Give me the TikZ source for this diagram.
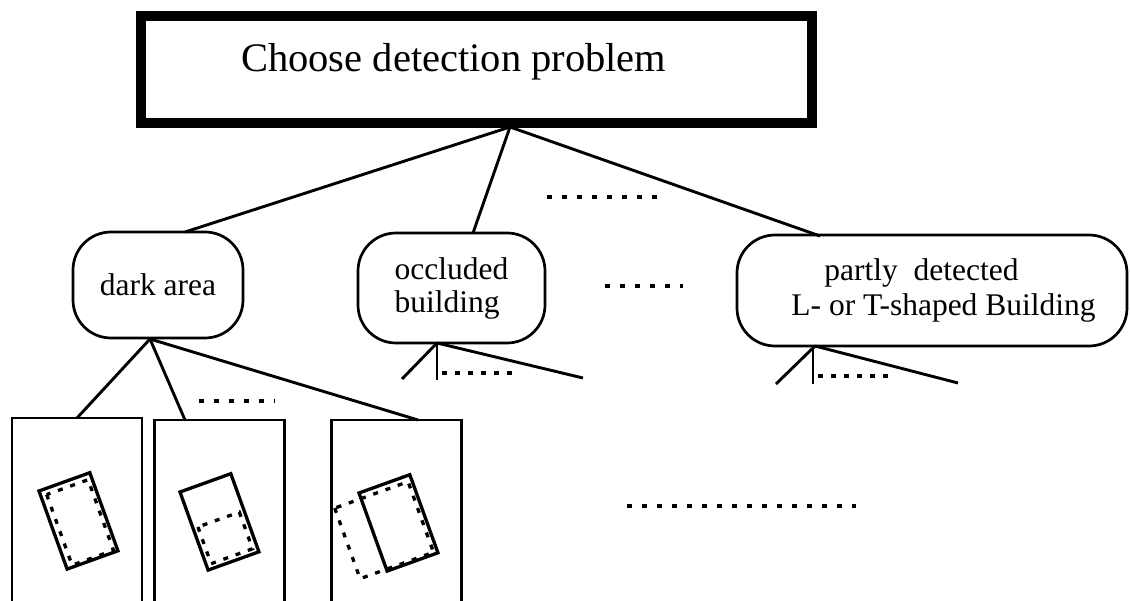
\documentclass[tikz,border=0pt]{standalone}
\usepackage{fontspec}
\setmainfont{Liberation Serif}
\begin{document}
\begin{tikzpicture}[x=1pt,y=-1pt,
  conn/.style={line width=2.9pt},
  bubble/.style={draw, line width=2.7pt, rounded corners=38pt, inner sep=0pt, outer sep=0pt,
    font=\fontsize{31.5}{33}\selectfont, align=left},
  panel/.style={draw, line width=2.7pt, inner sep=0pt, outer sep=0pt,
    minimum width=130pt, minimum height=240pt, anchor=north},
  dots/.style={line width=3.2pt, dash pattern=on 5pt off 10pt},
  bldg/.style={line width=3.3pt},
  hyp/.style={line width=3.3pt, dash pattern=on 5pt off 8pt}
]
\clip (0,0) rectangle (1130,601);
\fill[white] (0,0) rectangle (1130,601);

% top box
\node[draw, line width=9.5pt, minimum width=671pt, minimum height=107pt,
      inner sep=0pt, outer sep=0pt] (top) at (476.5,69.5) {};
\node[anchor=base west, inner sep=0pt, font=\fontsize{40.5}{44}\selectfont]
      (toptext) at (241,72) {Choose detection problem};

% problem nodes
\node[bubble, minimum width=170pt, minimum height=106pt] (dark) at (158,285) {dark area};
\node[bubble, minimum width=187pt, minimum height=110pt] (occ) at (451.5,288) {occluded\\building};
\node[bubble, minimum width=390pt, minimum height=111pt, font=\fontsize{31.5}{35}\selectfont]
      (part) at (932,290.5) {\hspace*{56pt}partly\ \ detected\\\hspace*{23pt}L- or T-shaped Building};

% connectors from top
\coordinate (j0) at (510,127);
\coordinate (darkin) at (185,232);
\coordinate (occin) at (473,233);
\coordinate (partin) at (820,236);
\draw[conn] (j0) -- (darkin);
\draw[conn] (j0) -- (occin);
\draw[conn] (j0) -- (partin);

% dotted continuation marks
\draw[dots] (547,197) -- (660,197);
\draw[dots] (605,286) -- (683,286);
\draw[dots] (199,401) -- (275,401);
\draw[dots] (627,506) -- (856,506);

% panels under dark area
\node[panel] (p1) at (77,418) {};
\node[panel] (p2) at (219.5,420) {};
\node[panel] (p3) at (396.5,420) {};
\coordinate (jd) at (150,339);
\coordinate (p2in) at (185,420);
\coordinate (p3in) at (418,420);
\draw[conn] (jd) -- (p1.north);
\draw[conn] (jd) -- (p2in);
\draw[conn] (jd) -- (p3in);

% sub-branches of occluded building
\coordinate (jo) at (437,343);
\coordinate (ol) at (402,379);
\coordinate (ov) at (437,380);
\coordinate (or) at (583,378);
\draw[conn] (jo) -- (ol);
\draw[conn] (jo) -- (ov);
\draw[conn] (jo) -- (or);
\draw[hyp] (442,373) -- (515,373);

% sub-branches of partly detected building
\coordinate (jp) at (815,346);
\coordinate (jpv) at (813,346);
\coordinate (pl) at (776,384);
\coordinate (pv) at (813,384);
\coordinate (pr) at (958,383);
\draw[conn] (jp) -- (pl);
\draw[conn] (jpv) -- (pv);
\draw[conn] (jp) -- (pr);
\draw[hyp] (818,376) -- (892,376);

% buildings in panels
\begin{scope}[shift={(39,491)}, rotate=19.8]
  \draw[bldg] (0,0) rectangle (54,83);
  \draw[hyp] (6,6) rectangle (50,81);
\end{scope}
\begin{scope}[shift={(180,492)}, rotate=19.8]
  \draw[bldg] (0,0) rectangle (54,83);
  \draw[hyp] (5,39) rectangle (49,78);
\end{scope}
\begin{scope}[shift={(359,493)}, rotate=19.8]
  \draw[bldg] (0,0) rectangle (54,83);
  \draw[hyp] (-28,6) rectangle (50,81);
\end{scope}
\end{tikzpicture}
\end{document}
